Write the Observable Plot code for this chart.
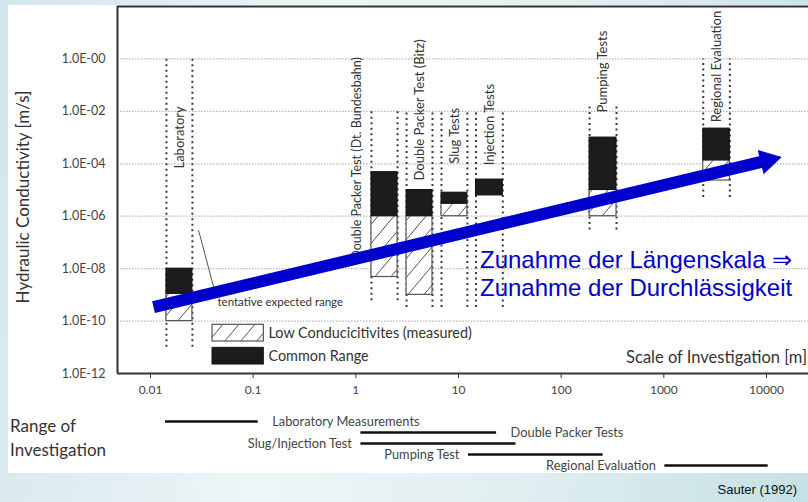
<!DOCTYPE html>
<html><head><meta charset="utf-8">
<script src="https://cdn.jsdelivr.net/npm/d3@7"></script>
<script src="https://cdn.jsdelivr.net/npm/@observablehq/plot@0.6"></script>
<style>
html,body{margin:0;padding:0;}
body{width:808px;height:502px;position:relative;overflow:hidden;
 background:linear-gradient(100deg,#d2e6ec 0%,#eef5f7 38%,#e2eff1 65%,#c5e1e5 100%);
 font-family:Lato,"Open Sans",sans-serif;}
#panel{position:absolute;left:8px;top:5px;width:800px;height:468px;background:#fff;}
#main{position:absolute;left:0;top:0;}
#ranges{position:absolute;left:0;top:405px;}
.abs{position:absolute;white-space:nowrap;line-height:1;}
#ytitle{left:22px;top:197px;font-size:17px;color:#333;transform:translate(-50%,-50%) rotate(-90deg);}
.roi{left:10px;font-size:17px;color:#333;transform:translateY(-50%);}
#scale{right:1px;top:349px;font-size:16.5px;color:#333;}
#blue{position:absolute;left:480px;top:246px;font:24px/28.4px "Liberation Sans",Arial,sans-serif;color:#0000cc;white-space:nowrap;}
#src{right:11px;top:482px;font:13px "Liberation Sans",Arial,sans-serif;color:#111;}
</style></head>
<body>
<div id="panel"></div>
<div id="main"></div>
<div id="ranges"></div>
<div class="abs" id="ytitle">Hydraulic Conductivity [m/s]</div>
<div class="abs roi" style="top:425px">Range of</div>
<div class="abs roi" style="top:449px">Investigation</div>
<div class="abs" id="scale">Scale of Investigation [m]</div>
<div id="blue">Zunahme der Längenskala ⇒<br>Zunahme der Durchlässigkeit</div>
<div class="abs" id="src">Sauter (1992)</div>
<script>
// ---- data ----
const methods = ["Laboratory","Double Packer Test (Dt. Bundesbahn)","Double Packer Test (Bitz)","Slug Tests","Injection Tests","Pumping Tests","Regional Evaluation"];
const scaleMin = [0.0143, 1.42, 3.12, 6.83, 14.8, 189, 2420];
const scaleMax = [0.0256, 2.55, 5.58, 12.2, 27, 346, 4395];
const commonHigh = [1e-8, 4.8e-5, 1e-5, 7.9e-6, 2.5e-5, 1e-3, 2.2e-3];
const commonLow = [1.1e-9, 1e-6, 1e-6, 3e-6, 6.2e-6, 1e-5, 1.35e-4];
const lowConductivity = [1e-10, 4.8e-9, 1e-9, 1e-6, null, 1e-6, 2.3e-5];
const rangeTop = [1e0, 1e-2, 1e-2, 1e-2, 1e-2, 1.8e-2, 1e0];
const rangeBottom = [1e-11, 6e-10, 3.3e-10, 3.3e-10, 3.3e-10, 3e-7, 5.2e-6];
const labelBase = [6.6e-5, 2.2e-8, 2.3e-5, 1e-4, 8.7e-5, 9e-3, 3.8e-3];

const rangeNames = ["Laboratory Measurements","Double Packer Tests","Slug/Injection Test","Pumping Test","Regional Evaluation"];
const rangeFrom = [0.014, 1.12, 1.12, 12.5, 1023];
const rangeTo = [0.112, 23.5, 36.3, 256, 10380];

const xTicks = [0.01, 0.1, 1, 10, 100, 1000, 10000];
const xTickLabels = ["0.01","0.1","1","10","100","1000","10000"];
const yTicks = [1e0, 1e-2, 1e-4, 1e-6, 1e-8, 1e-10, 1e-12];
const yTickLabels = ["1.0E-00","1.0E-02","1.0E-04","1.0E-06","1.0E-08","1.0E-10","1.0E-12"];
const gridLines = [1e0, 1e-2, 1e-4, 1e-6, 1e-8, 1e-10];

const legendLabels = ["Low Conducicitivites (measured)", "Common Range"];
const trendStart = {x: 0.0107, y: 3.4e-10};
const trendEnd = {x: 10270, y: 1.35e-4};

// ---- build ----
const cols = methods.map((name, i) => ({name, x0: scaleMin[i], x1: scaleMax[i], hi: commonHigh[i], lo: commonLow[i],
  low: lowConductivity[i], top: rangeTop[i], bottom: rangeBottom[i], lab: labelBase[i]}));
const ranges = rangeNames.map((name, i) => ({name, from: rangeFrom[i], to: rangeTo[i]}));

const xDomain = [0.004771, 25645];
const font = "Lato, 'Open Sans', sans-serif";
const dots = {stroke: "#3a3a3a", strokeWidth: 2, strokeDasharray: "2,3.5"};

const main = Plot.plot({
  width: 808, height: 405,
  marginLeft: 117, marginRight: 0, marginTop: 6, marginBottom: 32,
  style: {background: "transparent", fontFamily: font, overflow: "visible"},
  x: {type: "log", domain: xDomain},
  y: {type: "log", domain: [1e-12, 1e2]},
  marks: [
    Plot.ruleY(gridLines, {stroke: "#b8b8b8", strokeWidth: 1.3, strokeDasharray: "1.5,1.5"}),
    Plot.ruleX(cols, {x: "x0", y1: "bottom", y2: "top", ...dots}),
    Plot.ruleX(cols, {x: "x1", y1: "bottom", y2: "top", ...dots}),
    Plot.rect(cols.filter(d => d.low != null), {x1: "x0", x2: "x1", y1: "low", y2: "lo", fill: "url(#hatch)", stroke: "#555", strokeWidth: 1.2}),
    Plot.rect(cols, {x1: "x0", x2: "x1", y1: "lo", y2: "hi", fill: "#1c1c1c", stroke: "#111", strokeWidth: 1}),
    Plot.text(cols.filter((d, i) => i !== 1), {x: d => Math.sqrt(d.x0 * d.x1), y: "lab", text: "name", rotate: -90, textAnchor: "start", fontSize: 13, fill: "#333"}),
    Plot.text(cols.filter((d, i) => i === 1), {x: d => Math.sqrt(d.x0 * d.x1), y: "lab", text: "name", rotate: -90, textAnchor: "start", fontSize: 12.5, fill: "#333", dx: -28}),
    // annotation: tentative expected range
    Plot.link([{x1: 0.0294, y1: 2.9e-7, x2: 0.042, y2: 1.5e-9}], {x1: "x1", y1: "y1", x2: "x2", y2: "y2", stroke: "#555", strokeWidth: 1}),
    Plot.text(["tentative expected range"], {x: 0.0449, y: 5.1e-10, text: d => d, textAnchor: "start", fontSize: 11.5, fill: "#333"}),
    // legend
    Plot.rect([{x1: 0.0402, x2: 0.127, y1: 1.66e-11, y2: 7.2e-11}], {x1: "x1", x2: "x2", y1: "y1", y2: "y2", fill: "url(#hatch)", stroke: "#555", strokeWidth: 1.2}),
    Plot.rect([{x1: 0.0402, x2: 0.127, y1: 2.2e-12, y2: 9.5e-12}], {x1: "x1", x2: "x2", y1: "y1", y2: "y2", fill: "#1c1c1c", stroke: "#111"}),
    Plot.text([legendLabels[0]], {x: 0.141, y: 3.4e-11, text: d => d, textAnchor: "start", fontSize: 14.4, fill: "#333"}),
    Plot.text([legendLabels[1]], {x: 0.141, y: 4.5e-12, text: d => d, textAnchor: "start", fontSize: 14.4, fill: "#333"}),
    // frame
    Plot.ruleY([1e2], {stroke: "#333", strokeWidth: 2}),
    Plot.ruleY([1e-12], {stroke: "#333", strokeWidth: 2}),
    Plot.ruleX([xDomain[0]], {y1: 1e-12, y2: 1e2, stroke: "#333", strokeWidth: 2}),
    Plot.axisX(xTicks, {tickFormat: d => xTickLabels[xTicks.indexOf(d)], tickSize: 5, tickPadding: 7, fontSize: 12, stroke: "#333", fill: "#444", label: null}),
    Plot.axisY(yTicks, {tickFormat: d => yTickLabels[yTicks.indexOf(d)], tickSize: 0, tickPadding: 12, fontSize: 12.5, fill: "#444", label: null}),
    // trend arrow
    Plot.link([{a: trendStart, b: trendEnd}], {x1: d => d.a.x, y1: d => d.a.y, x2: d => d.b.x, y2: d => d.b.y, stroke: "#0000cc", strokeWidth: 12}),
    Plot.dot([trendEnd], {x: "x", y: "y", symbol: "triangle", r: 9.3, fill: "#0000cc", stroke: "none", rotate: 76.5})
  ]
});
const svg = main.tagName.toLowerCase() === "svg" ? main : main.querySelector("svg");
const ns = "http://www.w3.org/2000/svg";
const defs = document.createElementNS(ns, "defs");
defs.innerHTML = '<pattern id="hatch" patternUnits="userSpaceOnUse" width="16" height="19"><rect width="16" height="19" fill="#fff"/><path d="M0,19L16,0" stroke="#555" stroke-width="1"/></pattern>';
svg.insertBefore(defs, svg.firstChild);
document.getElementById("main").appendChild(main);

const rp = Plot.plot({
  width: 808, height: 70,
  marginLeft: 117, marginRight: 0, marginTop: 15, marginBottom: 8.33,
  style: {background: "transparent", fontFamily: font, overflow: "visible"},
  x: {type: "log", domain: xDomain, axis: null},
  y: {type: "point", domain: rangeNames, padding: 0, axis: null},
  marks: [
    Plot.ruleY(ranges, {y: "name", x1: "from", x2: "to", stroke: "#111", strokeWidth: 2.5}),
    Plot.text(ranges.slice(0, 2), {x: "to", y: "name", text: "name", textAnchor: "start", dx: 14, fontSize: 12.8, fill: "#444"}),
    Plot.text(ranges.slice(2), {x: "from", y: "name", text: "name", textAnchor: "end", dx: -9, fontSize: 12.8, fill: "#444"})
  ]
});
document.getElementById("ranges").appendChild(rp);
</script>
</body></html>
